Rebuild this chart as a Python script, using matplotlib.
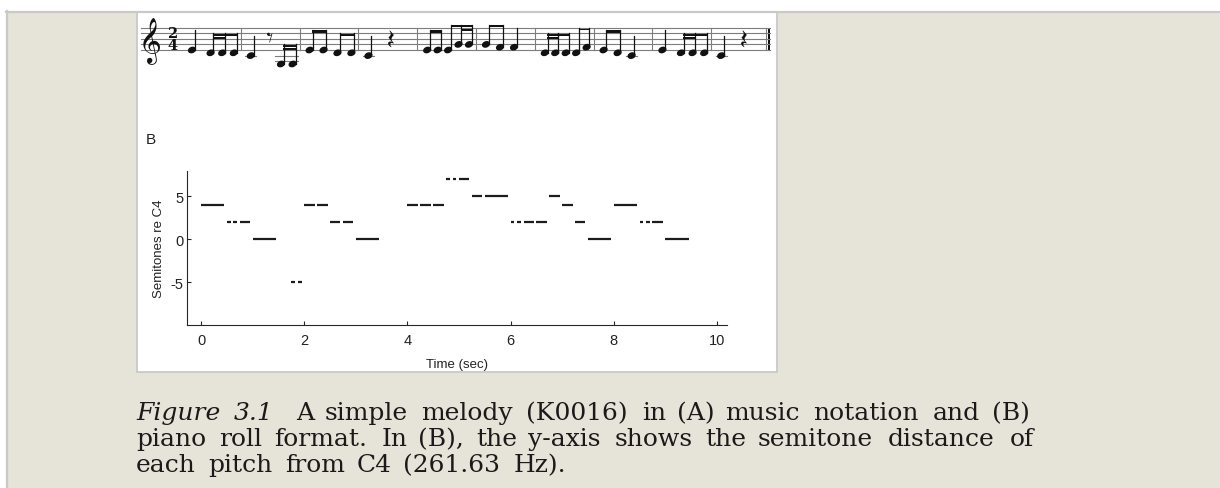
import numpy as np
import matplotlib.pyplot as plt
from matplotlib.patches import Ellipse, Rectangle
from matplotlib.font_manager import FontProperties
from matplotlib.textpath import TextPath

plt.rcParams['font.family'] = ['Liberation Sans', 'DejaVu Sans']
plt.rcParams['axes.unicode_minus'] = False

# melody K0016: semitones re C4, onset and duration in seconds
pitch = [4, 2, 2, 2, 0, -5, -5, 4, 4, 2, 2, 0, 4, 4, 4, 7, 7, 7, 5, 5,
         2, 2, 2, 2, 5, 4, 2, 0, 4, 2, 2, 2, 0]
onset = [0.0, 0.5, 0.625, 0.75, 1.0, 1.75, 1.875, 2.0, 2.25, 2.5, 2.75, 3.0,
         4.0, 4.25, 4.5, 4.75, 4.875, 5.0, 5.25, 5.5,
         6.0, 6.125, 6.25, 6.5, 6.75, 7.0, 7.25, 7.5,
         8.0, 8.5, 8.625, 8.75, 9.0]
dur = [0.5, 0.125, 0.125, 0.25, 0.5, 0.125, 0.125, 0.25, 0.25, 0.25, 0.25, 0.5,
       0.25, 0.25, 0.25, 0.125, 0.125, 0.25, 0.25, 0.5,
       0.125, 0.125, 0.25, 0.25, 0.25, 0.25, 0.25, 0.5,
       0.5, 0.125, 0.125, 0.25, 0.5]
rest_onset = [1.5, 3.5, 9.5]
rest_dur = [0.25, 0.5, 0.5]

beat = 0.5      # quarter note
bar_len = 1.0   # 2/4
n_bars = 10

xticks = [0, 2, 4, 6, 8, 10]
yticks = [-5, 0, 5]

fig_label = 'Figure 3.1'
caption = ['A simple melody (K0016) in (A) music notation and (B)',
           'piano roll format. In (B), the y-axis shows the semitone distance of',
           'each pitch from C4 (261.63 Hz).']

W, H = 1220, 489
beige = '#e6e3d8'
edge = '#c9c9c9'
ink = '#111111'

fig = plt.figure(figsize=(W / 100, H / 100), dpi=100)
fig.patch.set_facecolor('white')
renderer = fig.canvas.get_renderer()

# page layer in pixel units, y downwards
page = fig.add_axes([0, 0, 1, 1], zorder=0)
page.set_xlim(0, W)
page.set_ylim(H, 0)
page.axis('off')

page.add_patch(Rectangle((7, 12.5), W, H, facecolor=beige, edgecolor='none'))
page.plot([7, 7], [12, H], color=edge, lw=1.6)
page.plot([6, W], [12.5, 12.5], color=edge, lw=1.6)
page.add_patch(Rectangle((137, 12.5), 640, 360.5, facecolor='white',
                         edgecolor=edge, lw=1.3))

# ---- (A) score ----
st_left, st_right = 141, 770
st_bottom = 51.0
sp = 5.6
first_bar = 182
bar_w = (st_right - first_bar) / n_bars
line_col = '#7d7d7d'
music = FontProperties(family='Noto Music')


def step_y(step):
    return st_bottom - (step - 2) * sp / 2


def staff_step(semi):
    diat = [0, 0, 1, 1, 2, 3, 3, 4, 4, 5, 5, 6]
    octave, pc = divmod(semi, 12)
    return octave * 7 + diat[pc]


def glyph(ch, height, cx=None, left=None, cy=None, top=None):
    ext = TextPath((0, 0), ch, size=1, prop=music).get_extents()
    em = height / ext.height
    x = left - ext.x0 * em if left is not None else cx - (ext.x0 + ext.width / 2) * em
    y = top + ext.y1 * em if top is not None else cy + (ext.y0 + ext.height / 2) * em
    page.text(x, y, ch, fontproperties=music, fontsize=em * 0.72, color=ink,
              ha='left', va='baseline')


for k in range(5):
    page.plot([st_left, st_right], [step_y(2 + 2 * k)] * 2, color=line_col, lw=0.8)
for b in range(1, n_bars):
    xb = first_bar + b * bar_w
    page.plot([xb, xb], [step_y(10), step_y(2)], color=line_col, lw=0.8)
page.plot([st_right - 4.5] * 2, [step_y(10), step_y(2)], color=line_col, lw=0.8)
page.add_patch(Rectangle((st_right - 2.5, step_y(10)), 2.5, step_y(2) - step_y(10),
                         color=ink, lw=0))

glyph('\U0001D11E', 47, left=143, top=17)
page.text(172.5, step_y(6), '2\n4', ha='center', va='center', fontsize=10.5,
          linespacing=0.78, fontweight='bold', family='DejaVu Serif', color=ink)

events = sorted([(o, d, p) for o, d, p in zip(onset, dur, pitch)]
                + [(o, d, None) for o, d in zip(rest_onset, rest_dur)],
                key=lambda e: e[0])

# horizontal spacing inside each bar
xpos = {}
for b in range(n_bars):
    evs = [e for e in events if b * bar_len <= e[0] < (b + 1) * bar_len]
    units = [1.6 if d >= beat else 1.0 for _, d, _ in evs]
    cum = np.concatenate([[0], np.cumsum(units[:-1])])
    step = min(14, (bar_w - 17) / cum[-1]) if cum[-1] > 0 else 0
    x0 = first_bar + b * bar_w + 10
    for e, c in zip(evs, cum):
        xpos[e[0]] = x0 + c * step

head_w, head_h = 7.0, 5.0
stem_len = 3.5 * sp
notes = [e for e in events if e[2] is not None]

for o, d, p in notes:
    x, s = xpos[o], staff_step(p)
    y = step_y(s)
    page.add_patch(Ellipse((x, y), head_w, head_h, angle=-22, color=ink, zorder=3))
    for ls in range(0, s - 1, -2):
        page.plot([x - 5.5, x + 5.5], [step_y(ls)] * 2, color=line_col, lw=0.8)
    if d >= beat:
        xs = x + head_w / 2 - 0.6
        page.plot([xs, xs], [y, y - stem_len], color=ink, lw=0.9)

# beams: short notes grouped by beat
groups = {}
for o, d, p in notes:
    if d < beat:
        groups.setdefault(int(o // beat), []).append((o, d, p))
for grp in groups.values():
    xs = [xpos[o] + head_w / 2 - 0.6 for o, _, _ in grp]
    ys = [step_y(staff_step(p)) for _, _, p in grp]
    top = min(ys) - stem_len
    for x, y in zip(xs, ys):
        page.plot([x, x], [y, top], color=ink, lw=0.9)
    page.add_patch(Rectangle((xs[0] - 0.4, top), xs[-1] - xs[0] + 0.8, 2.4,
                             color=ink, lw=0))
    for i in range(len(grp) - 1):
        if grp[i][1] < beat / 2 and grp[i + 1][1] < beat / 2:
            page.add_patch(Rectangle((xs[i] - 0.4, top + 4.0), xs[i + 1] - xs[i] + 0.8,
                                     2.2, color=ink, lw=0))

# rests
for o, d in zip(rest_onset, rest_dur):
    if d >= beat:
        glyph('\U0001D13D', 3.0 * sp, cx=xpos[o], cy=step_y(6) - 0.3 * sp)
    else:
        glyph('\U0001D13E', 1.7 * sp, cx=xpos[o], cy=step_y(7) + 0.1 * sp)

# ---- (B) piano roll ----
page.text(146, 144, 'B', fontsize=11, color='#222222', va='baseline')

ax = fig.add_axes([187.3 / W, (H - 326) / H, (726.7 - 187.3) / W, (326 - 171.7) / H],
                  zorder=1)
ax.patch.set_visible(False)
ax.hlines(pitch, onset, np.array(onset) + np.array(dur) - 0.05, colors='#1c1c1c',
          lw=1.6, capstyle='butt')
ax.set_xlim(-0.27, 10.19)
ax.set_ylim(-10, 8)
ax.set_xticks(xticks)
ax.set_yticks(yticks)
for side in ['top', 'right']:
    ax.spines[side].set_visible(False)
for side in ['left', 'bottom']:
    ax.spines[side].set_linewidth(0.8)
    ax.spines[side].set_color('#262626')
ax.tick_params(direction='in', length=3.2, width=0.8, color='#262626',
               labelsize=10.5, labelcolor='#222222')
ax.tick_params(axis='x', pad=6)
ax.tick_params(axis='y', pad=3)
ax.set_xlabel('Time (sec)', fontsize=9.5, color='#222222', labelpad=8)
ax.set_ylabel('Semitones re C4', fontsize=9.5, color='#222222', labelpad=4)

# ---- caption, set word by word with a little tracking ----
cap_kw = dict(family='DejaVu Serif', fontsize=18, color='#1a1a1a', va='baseline')
track = 0.7
space_w = 8.6


def caption_line(x, y, line, **kw):
    for w in line.split(' '):
        t = page.text(x, y, w, **kw)
        x += t.get_window_extent(renderer).width + track * (len(w) + 1) + space_w
    return x


caption_line(136, 420, fig_label, fontstyle='italic', **cap_kw)
caption_line(296, 420, caption[0], **cap_kw)
caption_line(136, 446, caption[1], **cap_kw)
caption_line(136, 472, caption[2], **cap_kw)

fig.savefig('out.png', dpi=100, facecolor=fig.get_facecolor())
